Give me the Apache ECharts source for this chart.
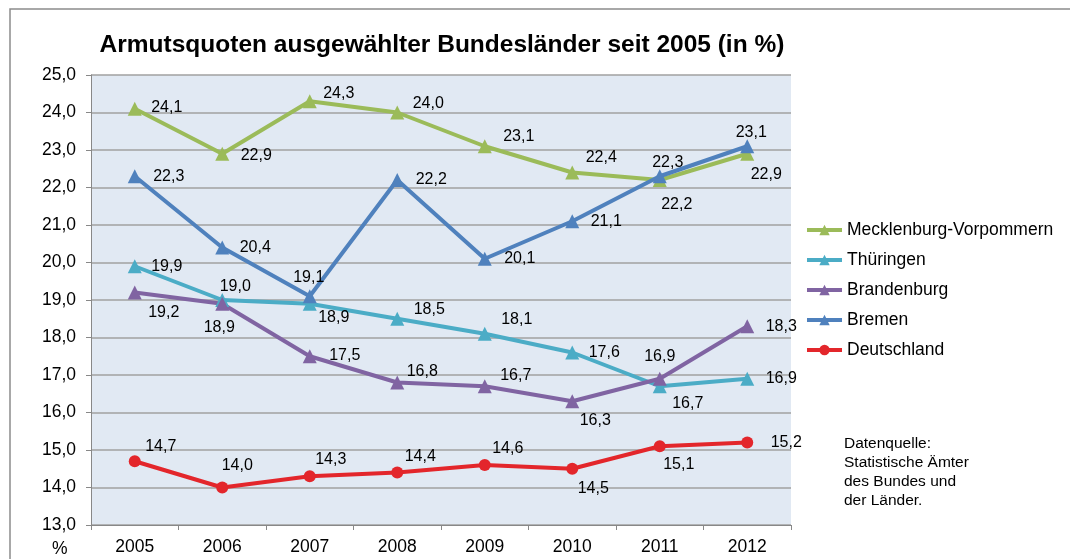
<!DOCTYPE html>
<html>
<head>
<meta charset="utf-8">
<script src="https://cdn.jsdelivr.net/npm/echarts@6/dist/echarts.min.js"></script>
<style>
  html, body { margin: 0; padding: 0; background: #fff; }
  #chart { width: 1070px; height: 559px; }
</style>
</head>
<body>
<div id="chart"></div>
<script>
// Daten
var years = ['2005', '2006', '2007', '2008', '2009', '2010', '2011', '2012'];
var mecklenburg = [24.1, 22.9, 24.3, 24.0, 23.1, 22.4, 22.2, 22.9];
var thueringen = [19.9, 19.0, 18.9, 18.5, 18.1, 17.6, 16.7, 16.9];
var brandenburg = [19.2, 18.9, 17.5, 16.8, 16.7, 16.3, 16.9, 18.3];
var bremen = [22.3, 20.4, 19.1, 22.2, 20.1, 21.1, 22.3, 23.1];
var deutschland = [14.7, 14.0, 14.3, 14.4, 14.6, 14.5, 15.1, 15.2];

// Verschiebung der Beschriftungen (vom Punkt aus)
var offMV = [[32, -1], [34, 2], [29, -8], [31, -9], [34, -10], [29, -15], [17, 25], [19, 21]];
var offTH = [[32, 0], [13, -13], [24, 14], [32, -9], [32, -14], [32, 0], [28, 17], [34, 0]];
var offBB = [[29, 20], [-3, 24], [35, -1], [25, -11], [31, -11], [23, 19], [0, -22], [34, 0]];
var offHB = [[34, 0], [33, 0], [-1, -19], [34, 0], [35, 0], [34, 0], [8, -14], [4, -14]];
var offDE = [[26, -15], [15, -22], [21, -17], [23, -16], [23, -16], [21, 20], [19, 18], [39, 0]];

var font = 'Liberation Sans, Arial, sans-serif';

function fmt(v) { return v.toFixed(1).replace('.', ','); }

function withLabels(values, offsets) {
  return values.map(function (v, i) {
    return { value: v, label: { offset: offsets[i] } };
  });
}

function makeSeries(name, values, offsets, color, symbol, size) {
  return {
    name: name,
    type: 'line',
    data: withLabels(values, offsets),
    symbol: symbol,
    symbolSize: size,
    lineStyle: { width: 4, color: color },
    itemStyle: { color: color },
    label: {
      show: true,
      position: 'inside',
      color: '#000',
      fontSize: 16,
      fontFamily: font,
      formatter: function (p) { return fmt(p.value); }
    },
    emphasis: { disabled: true },
    animation: false
  };
}

var chart = echarts.init(document.getElementById('chart'));
chart.setOption({
  backgroundColor: '#fff',
  title: {
    text: 'Armutsquoten ausgewählter Bundesländer seit 2005 (in %)',
    left: 437,
    textAlign: 'center',
    top: 28,
    textStyle: { fontSize: 24.5, fontWeight: 'bold', color: '#000', fontFamily: font }
  },
  legend: {
    orient: 'vertical',
    left: 800,
    top: 216,
    itemGap: 12,
    itemWidth: 35,
    itemHeight: 13,
    lineStyle: { width: 4 },
    textStyle: { fontSize: 17.5, color: '#000', fontFamily: font },
    data: ['Mecklenburg-Vorpommern', 'Thüringen', 'Brandenburg', 'Bremen', 'Deutschland']
  },
  grid: { left: 91, right: 279, top: 75, bottom: 34, show: true, backgroundColor: '#E1E9F3', borderWidth: 0 },
  xAxis: {
    type: 'category',
    data: years,
    boundaryGap: true,
    axisLine: { lineStyle: { color: '#888', width: 1 } },
    axisTick: { show: true, length: 5, lineStyle: { color: '#888' } },
    axisLabel: { color: '#000', fontSize: 17.5, margin: 13, fontFamily: font }
  },
  yAxis: {
    type: 'value',
    min: 13,
    max: 25,
    interval: 1,
    axisLine: { show: true, lineStyle: { color: '#888', width: 1 } },
    axisTick: { show: true, length: 5, lineStyle: { color: '#888' } },
    splitLine: { lineStyle: { color: '#A0A0A0', width: 1.5 } },
    axisLabel: {
      color: '#000',
      fontSize: 17.5,
      margin: 15,
      fontFamily: font,
      formatter: function (v) { return fmt(v); }
    }
  },
  graphic: [
    {
      type: 'rect',
      shape: { x: 10, y: 9, width: 1080, height: 570 },
      style: { fill: 'none', stroke: '#8C8C8C', lineWidth: 1.5 },
      silent: true
    },
    {
      type: 'text',
      left: 52,
      top: 540,
      style: { text: '%', fontSize: 17.5, fill: '#000', fontFamily: font }
    },
    {
      type: 'text',
      left: 844,
      top: 434,
      style: {
        text: 'Datenquelle:\nStatistische Ämter\ndes Bundes und\nder Länder.',
        fontSize: 15.5,
        lineHeight: 19,
        fill: '#000',
        fontFamily: font
      }
    }
  ],
  series: [
    makeSeries('Mecklenburg-Vorpommern', mecklenburg, offMV, '#9BBB59', 'triangle', 14),
    makeSeries('Thüringen', thueringen, offTH, '#4BACC6', 'triangle', 14),
    makeSeries('Brandenburg', brandenburg, offBB, '#8064A2', 'triangle', 14),
    makeSeries('Bremen', bremen, offHB, '#4F81BD', 'triangle', 14),
    makeSeries('Deutschland', deutschland, offDE, '#E3262B', 'circle', 12)
  ]
});
</script>
</body>
</html>
